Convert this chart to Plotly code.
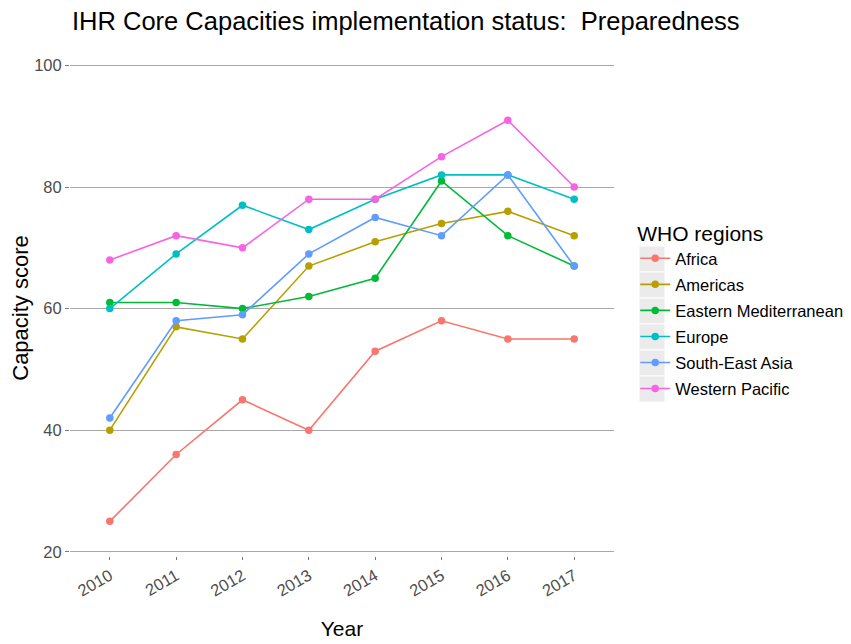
import plotly.graph_objects as go

years = [2010, 2011, 2012, 2013, 2014, 2015, 2016, 2017]
regions = ["Africa", "Americas", "Eastern Mediterranean", "Europe", "South-East Asia", "Western Pacific"]
africa = [25, 36, 45, 40, 53, 58, 55, 55]
americas = [40, 57, 55, 67, 71, 74, 76, 72]
eastern_med = [61, 61, 60, 62, 65, 81, 72, 67]
europe = [60, 69, 77, 73, 78, 82, 82, 78]
se_asia = [42, 58, 59, 69, 75, 72, 82, 67]
western_pacific = [68, 72, 70, 78, 78, 85, 91, 80]
colors = ["#F8766D", "#B79F00", "#00BA38", "#00BFC4", "#619CFF", "#F564E3"]
y_ticks = [20, 40, 60, 80, 100]

series = [africa, americas, eastern_med, europe, se_asia, western_pacific]

# page body has an 8px margin, so the figure is drawn 8px smaller
W, H = 843, 636
L, R, T, B = 62, 237, 52, 88
PW, PH = W - L - R, H - T - B

fig = go.Figure()
for name, vals, col in zip(regions, series, colors):
    fig.add_trace(go.Scatter(
        x=years, y=vals, name=name, mode="lines+markers",
        line=dict(color=col, width=1.6),
        marker=dict(color=col, size=7.5),
        legendgroup=name,
    ))

# grey legend-key backgrounds (ggplot style)
for i in range(len(regions)):
    cy = 251 + 26 * i  # figure pixel centre of the legend item
    fig.add_shape(
        type="rect", xref="paper", yref="paper",
        x0=(631 - L) / PW, x1=(657 - L) / PW,
        y0=(H - B - (cy + 13)) / PH, y1=(H - B - (cy - 13)) / PH,
        fillcolor="#ebebeb", line=dict(width=1, color="white"), layer="below",
    )

fig.update_layout(
    width=W, height=H,
    margin=dict(l=L, r=R, t=T, b=B, autoexpand=False),
    paper_bgcolor="white", plot_bgcolor="white",
    font=dict(family="Liberation Sans, Arial, sans-serif", color="black"),
    title=dict(text="IHR Core Capacities implementation status:  Preparedness",
               x=64 / W, xanchor="left", y=1 - 13 / H, yanchor="middle",
               font=dict(size=25.5, color="black")),
    legend=dict(
        title=dict(text="WHO regions", font=dict(size=21, color="black")),
        font=dict(size=16.5, color="black"),
        x=1.039, xanchor="left", y=0.69, yanchor="top",
        tracegroupgap=1.6, itemwidth=30, bgcolor="rgba(0,0,0,0)",
    ),
    showlegend=True,
)
fig.update_xaxes(
    range=[2009.4, 2017.6], tickvals=years, ticktext=[str(y) for y in years],
    tickangle=-30, showgrid=False, zeroline=False, showline=False,
    ticks="outside", ticklen=3, tickcolor="#777777", automargin=False,
    tickfont=dict(size=16.5, color="#4d4d4d"),
    title=dict(text="Year", font=dict(size=21, color="black"), standoff=22),
)
fig.update_yaxes(
    range=[19.3, 100.9], tickvals=y_ticks, showgrid=True, gridcolor="#a8a8a8",
    gridwidth=1, zeroline=False, showline=False,
    ticks="outside", ticklen=4, tickcolor="#777777", automargin=False,
    tickfont=dict(size=16.5, color="#4d4d4d"),
    title=dict(text="Capacity score", font=dict(size=22, color="black"), standoff=6),
)

fig.write_html("out.html")
